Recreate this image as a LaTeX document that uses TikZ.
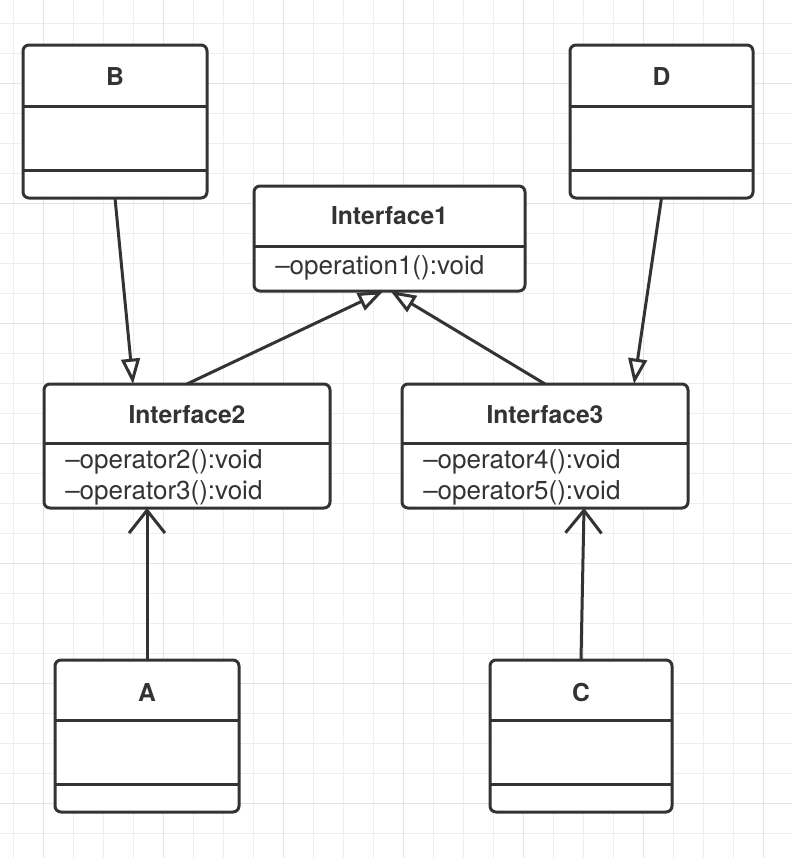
\documentclass[tikz,border=0pt]{standalone}
\usepackage{fontspec}
\setmainfont{TeX Gyre Heros}
\usetikzlibrary{arrows.meta,calc}

\definecolor{ink}{HTML}{333333}
\definecolor{gridminor}{HTML}{EEEEEE}
\definecolor{gridmajor}{HTML}{E4E4E4}

\begin{document}
\begin{tikzpicture}[x=0.75pt,y=-0.75pt,
  classbox/.style 2 args={draw=ink, line width=2.25pt, rounded corners=4.5pt,
    fill=white, inner sep=0pt, outer sep=0pt, anchor=north west,
    minimum width=#1*0.75pt, minimum height=#2*0.75pt},
  divider/.style={draw=ink, line width=2.25pt},
  classname/.style={font=\fontsize{18.5}{22}\selectfont\bfseries, text=ink, inner sep=0pt},
  member/.style={font=\fontsize{19.5}{23}\selectfont, text=ink, inner sep=0pt, anchor=west},
  conn/.style={draw=ink, line width=2.25pt},
  realize/.style={conn, -{Triangle[length=19pt, width=14pt, fill=white]}},
  depend/.style={conn, -{Straight Barb[length=17pt, width=27pt]}},
  gridline/.style={draw=gridminor, line width=1.1pt},
  gridmain/.style={draw=gridmajor, line width=1.1pt},
]
% canvas and background grid
\fill[white] (0,0) rectangle (792,858);
\useasboundingbox (0,0) rectangle (792,858);
\foreach \gx in {13.3,43.3,...,792} \draw[gridline] (\gx,0) -- (\gx,858);
\foreach \gy in {23.3,53.3,...,858} \draw[gridline] (0,\gy) -- (792,\gy);
\foreach \gx in {43.3,163.3,...,792} \draw[gridmain] (\gx,0) -- (\gx,858);
\foreach \gy in {83.3,203.3,...,858} \draw[gridmain] (0,\gy) -- (792,\gy);

% class B
\node[classbox={184}{153}] (b) at (23,45) {};
\draw[divider] ($(b.north west)+(0,61)$) -- ($(b.north east)+(0,61)$);
\draw[divider] ($(b.north west)+(0,125)$) -- ($(b.north east)+(0,125)$);
\node[classname] (b-name) at ($(b.north)+(0,32)$) {B};

% class D
\node[classbox={183}{153}] (d) at (570,45) {};
\draw[divider] ($(d.north west)+(0,61)$) -- ($(d.north east)+(0,61)$);
\draw[divider] ($(d.north west)+(0,125)$) -- ($(d.north east)+(0,125)$);
\node[classname] (d-name) at ($(d.north)+(0,32)$) {D};

% Interface1
\node[classbox={271}{105}] (i1) at (254,186) {};
\draw[divider] ($(i1.north west)+(0,60)$) -- ($(i1.north east)+(0,60)$);
\node[classname] (i1-name) at ($(i1.north)+(0,30)$) {Interface1};
\node[member] (i1-op1) at ($(i1.north west)+(21,82)$) {–operation1():void};

% Interface2
\node[classbox={286}{124}] (i2) at (44,384) {};
\draw[divider] ($(i2.north west)+(0,59)$) -- ($(i2.north east)+(0,59)$);
\node[classname] (i2-name) at ($(i2.north)+(0,31)$) {Interface2};
\node[member] (i2-op2) at ($(i2.north west)+(21,78)$) {–operator2():void};
\node[member] (i2-op3) at ($(i2.north west)+(21,109)$) {–operator3():void};

% Interface3
\node[classbox={286}{124}] (i3) at (402,384) {};
\draw[divider] ($(i3.north west)+(0,59)$) -- ($(i3.north east)+(0,59)$);
\node[classname] (i3-name) at ($(i3.north)+(0,31)$) {Interface3};
\node[member] (i3-op4) at ($(i3.north west)+(21,78)$) {–operator4():void};
\node[member] (i3-op5) at ($(i3.north west)+(21,109)$) {–operator5():void};

% class A
\node[classbox={184}{152}] (a) at (55,660) {};
\draw[divider] ($(a.north west)+(0,60)$) -- ($(a.north east)+(0,60)$);
\draw[divider] ($(a.north west)+(0,124)$) -- ($(a.north east)+(0,124)$);
\node[classname] (a-name) at ($(a.north)+(0,32)$) {A};

% class C
\node[classbox={182}{152}] (c) at (490,660) {};
\draw[divider] ($(c.north west)+(0,60)$) -- ($(c.north east)+(0,60)$);
\draw[divider] ($(c.north west)+(0,124)$) -- ($(c.north east)+(0,124)$);
\node[classname] (c-name) at ($(c.north)+(0,32)$) {C};

% relations
\draw[realize] (b.south) -- ($(i2.north)+(-54,0)$);
\draw[realize] (d.south) -- ($(i3.north)+(89,0)$);
\draw[realize] (i2.north) -- ($(i1.south)+(-6,0)$);
\draw[realize] (i3.north) -- ($(i1.south)+(1,0)$);
\draw[depend] (a.north) -- (a.north |- i2.south);
\draw[depend] (c.north) -- ($(i3.south)+(39,0)$);
\end{tikzpicture}
\end{document}
